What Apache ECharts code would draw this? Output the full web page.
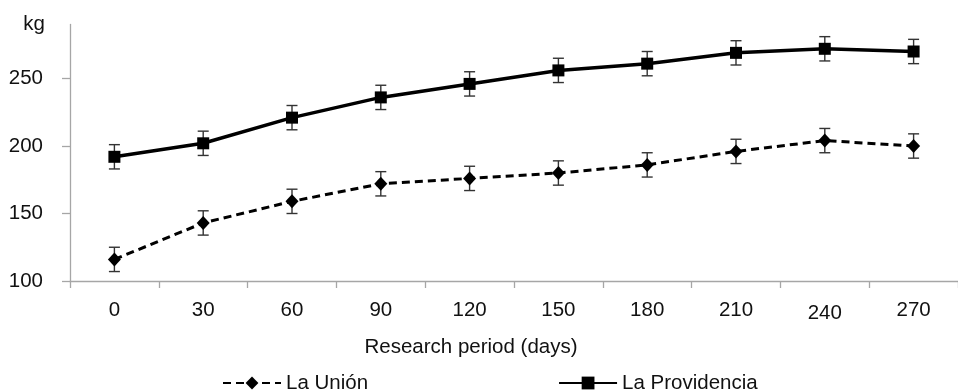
<!DOCTYPE html>
<html>
<head>
<meta charset="utf-8">
<script src="https://cdn.jsdelivr.net/npm/echarts@6/dist/echarts.min.js"></script>
<style>
html,body{margin:0;padding:0;background:#fff;}
#chart{width:958px;height:391px;}
</style>
</head>
<body>
<div id="chart"></div>
<script>
var days = ['0','30','60','90','120','150','180','210','240','270'];
var laUnion = [116, 143, 159, 172, 176, 180, 186, 196, 204, 200];
var laUnionErr = [9, 9, 9, 9, 9, 9, 9, 9, 9, 9];
var laProvidencia = [192, 202, 221, 236, 246, 256, 261, 269, 272, 270];
var laProvidenciaErr = [9, 9, 9, 9, 9, 9, 9, 9, 9, 9];
var yTicks = [100, 150, 200, 250];

var FONT = '"Liberation Sans", Arial, sans-serif';
var FS = 20.5;
var AXIS_COLOR = '#a6a6a6';

function errData(vals, errs) {
  return vals.map(function (v, i) { return [i, v - errs[i], v + errs[i]]; });
}
function renderErr(params, api) {
  var x = api.value(0);
  var lo = api.coord([x, api.value(1)]);
  var hi = api.coord([x, api.value(2)]);
  var w = 5.5;
  var st = { stroke: '#333', lineWidth: 1.4 };
  return {
    type: 'group',
    children: [
      { type: 'line', shape: { x1: lo[0], y1: lo[1], x2: hi[0], y2: hi[1] }, style: st },
      { type: 'line', shape: { x1: lo[0] - w, y1: lo[1], x2: lo[0] + w, y2: lo[1] }, style: st },
      { type: 'line', shape: { x1: hi[0] - w, y1: hi[1], x2: hi[0] + w, y2: hi[1] }, style: st }
    ]
  };
}

// the "240" label sits a little lower in the original
var xData = days.map(function (d) {
  return d === '240' ? { value: d, textStyle: { padding: [3, 0, 0, 0] } } : d;
});

var chart = echarts.init(document.getElementById('chart'), null, { renderer: 'canvas' });
chart.setOption({
  animation: false,
  backgroundColor: '#fff',
  textStyle: { fontFamily: FONT, color: '#111' },
  grid: { left: 70, top: 24.5, width: 896, bottom: 110, containLabel: false },
  legend: {
    left: 222,
    top: 371,
    padding: 0,
    itemWidth: 58,
    itemHeight: 16,
    itemGap: 190,
    textStyle: { fontFamily: FONT, fontSize: FS, color: '#111', lineHeight: 24 },
    data: ['La Unión', 'La Providencia']
  },
  xAxis: {
    type: 'category',
    data: xData,
    boundaryGap: true,
    axisLine: { lineStyle: { color: AXIS_COLOR, width: 1.3 } },
    axisTick: { show: true, length: 7, lineStyle: { color: AXIS_COLOR, width: 1.3 } },
    axisLabel: { fontFamily: FONT, fontSize: FS, color: '#111', margin: 19 },
    name: 'Research period (days)',
    nameLocation: 'middle',
    nameGap: 56,
    nameTextStyle: { fontFamily: FONT, fontSize: FS, color: '#111', padding: [0, 86, 0, 0] }
  },
  yAxis: {
    type: 'value',
    min: 100,
    max: 290,
    interval: 50,
    splitLine: { show: false },
    axisLine: { show: true, lineStyle: { color: AXIS_COLOR, width: 1.3 } },
    axisTick: { show: true, length: 8, lineStyle: { color: AXIS_COLOR, width: 1.3 }, customValues: yTicks },
    axisLabel: { fontFamily: FONT, fontSize: FS, color: '#111', margin: 27, customValues: yTicks },
    name: 'kg',
    nameLocation: 'end',
    nameGap: 0,
    nameTextStyle: { fontFamily: FONT, fontSize: FS, color: '#111', align: 'right', verticalAlign: 'middle', padding: [0, 25, 0, 0] }
  },
  series: [
    {
      type: 'custom',
      name: 'errUnion',
      renderItem: renderErr,
      data: errData(laUnion, laUnionErr),
      encode: { x: 0, y: [1, 2] },
      z: 1,
      silent: true
    },
    {
      type: 'custom',
      name: 'errProv',
      renderItem: renderErr,
      data: errData(laProvidencia, laProvidenciaErr),
      encode: { x: 0, y: [1, 2] },
      z: 1,
      silent: true
    },
    {
      name: 'La Unión',
      type: 'line',
      data: laUnion,
      symbol: 'diamond',
      symbolSize: [13, 14],
      z: 3,
      itemStyle: { color: '#000' },
      lineStyle: { color: '#000', width: 3, type: [8, 5] }
    },
    {
      name: 'La Providencia',
      type: 'line',
      data: laProvidencia,
      symbol: 'rect',
      symbolSize: 12,
      z: 3,
      itemStyle: { color: '#000' },
      lineStyle: { color: '#000', width: 3.5 }
    }
  ]
});
</script>
</body>
</html>
